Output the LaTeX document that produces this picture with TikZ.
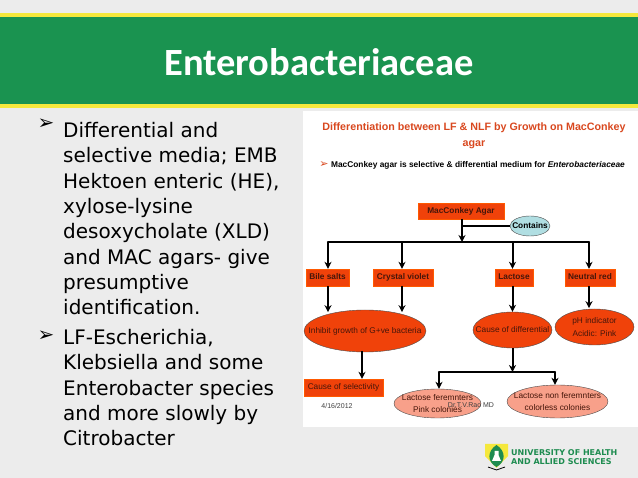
\documentclass[tikz,border=0pt]{standalone}
\usepackage{fontspec}
\setmainfont{Liberation Sans}
\newfontfamily\titlefont{Carlito}
\newfontfamily\bodyfont{DejaVu Sans}
\usetikzlibrary{positioning}
\usetikzlibrary{calc}
\usetikzlibrary{arrows.meta}
\usetikzlibrary{shapes.geometric}
\definecolor{pagegray}{RGB}{236,236,236}
\definecolor{bandgreen}{RGB}{26,147,80}
\definecolor{bandyellow}{RGB}{245,232,60}
\definecolor{redfill}{RGB}{240,66,10}
\definecolor{salmon}{RGB}{248,160,138}
\definecolor{paleblue}{RGB}{176,222,226}
\definecolor{headred}{RGB}{217,72,31}
\definecolor{darktext}{RGB}{70,22,10}
\definecolor{logogreen}{RGB}{30,140,80}
\tikzset{
    redbox/.style={draw=orange!70!red, fill=redfill, inner sep=0pt, text=darktext, text height=6.5pt, text depth=1.5pt, font=\fontsize{8.3}{10}\selectfont},
    boldbox/.style={redbox, font=\fontsize{8.3}{10}\selectfont\bfseries},
    redoval/.style={ellipse, draw=black!70, fill=redfill, inner sep=0pt},
    paleoval/.style={ellipse, draw=black!70, fill=salmon, inner sep=0pt},
    ovaltext/.style={text=darktext, align=center, inner sep=0pt, font=\fontsize{8.3}{12.5}\selectfont},
    link/.style={-{Stealth[length=7pt,width=7pt]}, black, line width=2pt},
    bus/.style={black, line width=2.2pt, line cap=round},
    bodytext/.style={anchor=north west, inner sep=0pt, align=left, text=black, font=\bodyfont\fontsize{20}{25.35}\selectfont},
    bulletmark/.style={font=\bodyfont\fontsize{20}{20}\selectfont},
}
\begin{document}
\begin{tikzpicture}[x=1pt, y=-1pt]
    \useasboundingbox (0,0) rectangle (638,478);
    \fill[pagegray] (0,0) rectangle (638,478);

    % title band
    \fill[bandyellow] (0,13) rectangle (638,108.5);
    \fill[bandgreen] (0,17) rectangle (638,104);
    \node[white, font=\titlefont\fontsize{38.5}{40}\selectfont\bfseries] (pagetitle) at (319,62) {Enterobacteriaceae};

    % left column
    \node[bodytext] (firsttext) at (63,122) {Differential and\\ selective media; EMB\\ Hektoen enteric (HE),\\ xylose-lysine\\
        desoxycholate (XLD)\\ and MAC agars- give\\ presumptive\\ identification.};
    \node[bodytext] (secondtext) at (63,329) {LF-Escherichia,\\ Klebsiella and some\\ Enterobacter species\\ and more slowly by\\ Citrobacter};
    \node[bulletmark] (firstbullet) at (46,124) {➢};
    \node[bulletmark] (secondbullet) at (46,336) {➢};

    % picture panel
    \fill[white] (303,111) rectangle (638,427);
    \node[headred, align=center, font=\fontsize{10.7}{16}\selectfont\bfseries] (panelhead) at (474,136) {Differentiation between LF \& NLF by Growth on MacConkey\\ agar};
    \node[headred, font=\bodyfont\fontsize{11}{11}\selectfont] (panelbullet) at (324,165) {➢};
    \node[font=\fontsize{8.35}{10}\selectfont\bfseries] (panelline) at (478,165) {MacConkey agar is selective \& differential medium for \textit{Enterobacteriaceae}};

    % boxes and ovals
    \node[boldbox, minimum width=86pt, minimum height=16pt] (agar) at (461,211) {MacConkey Agar};
    \node[ellipse, draw=black!70, fill=paleblue, inner sep=0pt, minimum width=40pt, minimum height=20pt, label={[inner sep=0pt, font=\fontsize{8.3}{10}\selectfont\bfseries]center:Contains}] (contains) at (530,226) {};
    \node[boldbox, minimum width=43pt, minimum height=17pt] (bilesalts) at (327.5,277.5) {Bile salts};
    \node[boldbox, minimum width=60pt, minimum height=17pt] (crystal) at (403,277.5) {Crystal violet};
    \node[boldbox, minimum width=38pt, minimum height=17pt] (lactose) at (514,277.5) {Lactose};
    \node[boldbox, minimum width=50pt, minimum height=17pt] (neutral) at (590,277.5) {Neutral red};
    \node[redoval, minimum width=122pt, minimum height=42pt, label={[ovaltext]center:Inhibit growth of G+ve bacteria}] (inhibit) at (365,331) {};
    \node[redoval, minimum width=79pt, minimum height=36pt, label={[ovaltext]center:Cause of differential}] (differential) at (512.5,330) {};
    \node[redoval, minimum width=79pt, minimum height=36pt, label={[ovaltext]center:pH indicator\\ Acidic: Pink}] (indicator) at (594.5,327) {};
    \node[redbox, minimum width=79pt, minimum height=17pt] (selectivity) at (343.5,387.5) {Cause of selectivity};
    \node[paleoval, minimum width=87pt, minimum height=29pt, label={[ovaltext]center:Lactose feremnters\\ Pink colonies}] (fermenters) at (437.5,403.5) {};
    \node[paleoval, minimum width=101pt, minimum height=33pt, label={[ovaltext]center:Lactose non feremnters\\ colorless colonies}] (nonfermenters) at (557.5,401.5) {};

    \node[black!75, font=\fontsize{7}{8}\selectfont] (datelabel) at (337,406) {4/16/2012};
    \node[black!75, font=\fontsize{7}{8}\selectfont] (authorlabel) at (471,405.5) {Dr.T.V.Rao MD};

    % connectors
    \coordinate (agardown) at (462,219);
    \coordinate (agarbus) at (462,242);
    \coordinate (containsjoin) at (462,226);
    \coordinate (busbile) at (328,242);
    \coordinate (buscrystal) at (402,242);
    \coordinate (buslactose) at (512.5,242);
    \coordinate (busneutral) at (589,242);
    \coordinate (inhibitout) at (362,351.5);
    \draw[link] (agardown) -- (agarbus);
    \draw[black, line width=1.3pt] (containsjoin) -- (contains.west);
    \draw[bus] (busbile) -- (busneutral);
    \draw[link] (busbile) -- (busbile |- bilesalts.north);
    \draw[link] (buscrystal) -- (buscrystal |- crystal.north);
    \draw[link] (buslactose) -- (buslactose |- lactose.north);
    \draw[link] (busneutral) -- (busneutral |- neutral.north);

    \draw[link] (busbile |- bilesalts.south) -- ++(0,26);
    \draw[link] (buscrystal |- crystal.south) -- ++(0,26);
    \draw[link] (buslactose |- lactose.south) -- (differential.north);
    \draw[link] (busneutral |- neutral.south) -- ++(0,22);
    \draw[link] (inhibitout) -- (inhibitout |- selectivity.north);

    \coordinate (splitbus) at (512.5,372);
    \coordinate (busferm) at (439,372);
    \coordinate (busnon) at (555,372);
    \draw[link] (differential.south) -- (splitbus);
    \draw[bus] (busferm) -- (busnon);
    \draw[link] (busferm) -- (busferm |- fermenters.north);
    \draw[link] (busnon) -- (busnon |- nonfermenters.north);

    % logo
    \fill[bandyellow] (485,444) -- (508,444) -- (508,456) -- (496.5,468) -- (485,456) -- cycle;
    \fill[logogreen] (496.5,445) .. controls (506,451) and (506,462) .. (496.5,467) .. controls (487,462) and (487,451) .. (496.5,445) -- cycle;
    \fill[white] (494.5,451) -- (498.5,451) -- (498.5,455) -- (501,461) -- (492,461) -- (494.5,455) -- cycle;
    \draw[black, line width=0.8pt] (488,467) -- (496.5,470) -- (505,467);
    \node[logogreen, anchor=west, inner sep=0pt, align=left, font=\bodyfont\fontsize{8}{9.5}\selectfont\bfseries] (logotext) at (511,457) {UNIVERSITY OF HEALTH\\ AND ALLIED SCIENCES};
\end{tikzpicture}
\end{document}
